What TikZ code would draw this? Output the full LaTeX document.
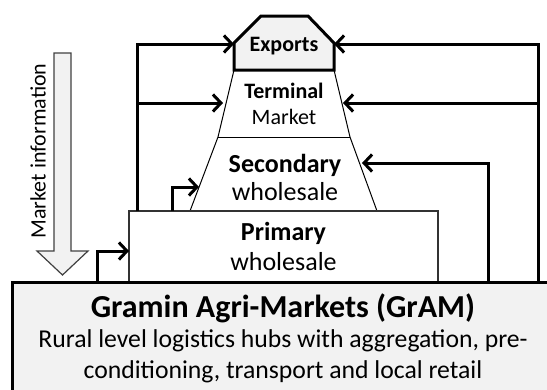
\documentclass[tikz,border=0pt]{standalone}
\usepackage{fontspec}
\setmainfont{Carlito}
\usepackage{tikz}
\usetikzlibrary{arrows.meta}
\definecolor{panel}{HTML}{F2F2F2}
\tikzset{
  flow/.style={-{Straight Barb[length=8pt,width=17pt]}, line width=3pt},
  tierline/.style={draw=black, line width=1pt},
  exportsbox/.style={draw=black, fill=panel, line width=3pt, line join=miter},
  primarybox/.style={rectangle, draw=black!80, fill=white, line width=1.5pt, inner sep=0pt,
                     minimum width=309pt, minimum height=71pt, align=center,
                     font=\fontsize{26}{30}\selectfont},
  grambox/.style={rectangle, draw=black, fill=panel, line width=3pt, inner sep=0pt,
                  minimum width=542pt, minimum height=116pt},
  tiertext/.style={align=center, inner sep=0pt, font=\fontsize{22}{26}\selectfont},
  midtext/.style={align=center, inner sep=0pt, font=\fontsize{26}{28}\selectfont},
  gramtitle/.style={inner sep=0pt, font=\fontsize{32}{38}\selectfont\bfseries},
  gramtext/.style={align=center, inner sep=0pt, font=\fontsize{25.7}{31}\selectfont},
  infotext/.style={inner sep=0pt, font=\fontsize{22}{26}\selectfont},
  infoarrow/.style={draw=black!75, fill=panel, line width=1.2pt, line join=miter},
}

\begin{document}
\begin{tikzpicture}[x=1pt, y=-1pt]
  \clip (0,0) rectangle (547,389);

  % pyramid of the markets
  \draw[tierline] (234,70) -- (218,137) -- (190,211);
  \draw[tierline] (334,70) -- (350,137) -- (377,211);
  \draw[tierline] (218,137) -- (350,137);
  \draw[exportsbox] (234,70) -- (234,43) -- (261,16) -- (308,16) -- (334,43) -- (334,70) -- cycle;

  \node[primarybox] (primary) at (283.5,246.5) {\textbf{Primary}\\wholesale};
  \node[grambox] (gram) at (283,340) {};

  \node[tiertext] (exports) at (284,46) {\textbf{Exports}};
  \node[tiertext] (terminal) at (284,104) {\textbf{Terminal}\\Market};
  \node[midtext] (secondary) at (285,177) {\textbf{Secondary}\\wholesale};
  \node[gramtitle] (gramname) at (283,308) {Gramin Agri-Markets (GrAM)};
  \node[gramtext] (gramdesc) at (283,356) {Rural level logistics hubs with aggregation, pre-\\conditioning, transport and local retail};

  % market information
  \draw[infoarrow] (54,53) -- (71,53) -- (71,251) -- (88,251) -- (62.5,275) -- (37,251) -- (54,251) -- cycle;
  \node[infotext, rotate=90] (info) at (38,151) {Market information};

  % ends of the connectors
  \coordinate (gramP) at (97,282);
  \coordinate (gramS) at (488,282);
  \coordinate (gramE) at (538,282);
  \coordinate (primS) at (172,211);
  \coordinate (primE) at (137,211);
  \coordinate (primL) at (129,251);
  \coordinate (secL) at (199,187);
  \coordinate (secR) at (362,163);
  \coordinate (termL) at (223,103);
  \coordinate (termR) at (343,103);
  \coordinate (expL) at (234,44);
  \coordinate (expR) at (334,44);

  \draw[flow] (gramP) |- (primL);
  \draw[flow] (primS) |- (secL);
  \draw[flow] (primE) |- (termL);
  \draw[flow] (primE) |- (expL);
  \draw[flow] (gramS) |- (secR);
  \draw[flow] (gramE) |- (termR);
  \draw[flow] (gramE) |- (expR);

\end{tikzpicture}
\end{document}
